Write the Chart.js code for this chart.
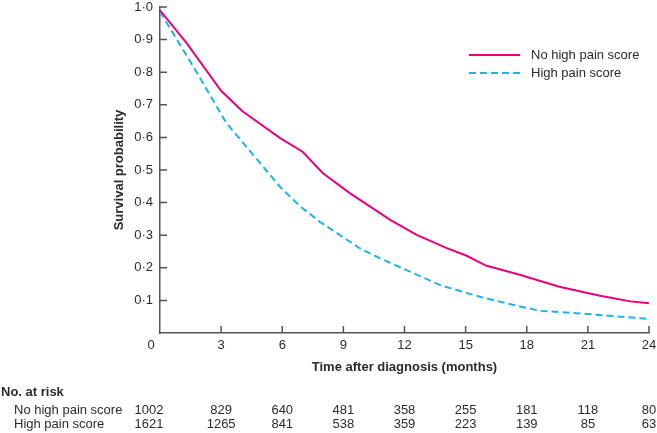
<!DOCTYPE html>
<html>
<head>
<meta charset="utf-8">
<script src="https://cdn.jsdelivr.net/npm/chart.js@4"></script>
<style>
html,body{margin:0;padding:0;background:#fff;}
#wrap{width:657px;height:433px;}
</style>
</head>
<body>
<div id="wrap"><canvas id="c" width="657" height="433"></canvas></div>
<script>
// ---- data ----
const seriesLabels = ['No high pain score', 'High pain score'];
const noHighMonths = [0, 1.3, 3.0, 4.05, 5.9, 7.0, 8.0, 9.3, 11.3, 12.6, 14.05, 15.05, 16.0, 17.7, 19.6, 21.6, 23.1, 24];
const noHighSurv   = [0.99, 0.89, 0.743, 0.68, 0.598, 0.556, 0.49, 0.43, 0.347, 0.301, 0.261, 0.237, 0.207, 0.178, 0.142, 0.114, 0.097, 0.091];
const highMonths   = [0, 0.3, 1.8, 3.25, 5.2, 5.9, 6.85, 7.85, 9.8, 10.8, 12.1, 13.75, 15.7, 17.35, 18.65, 20.6, 22.25, 24];
const highSurv     = [0.985, 0.955, 0.80, 0.645, 0.5, 0.448, 0.39, 0.341, 0.26, 0.229, 0.193, 0.147, 0.111, 0.086, 0.068, 0.06, 0.052, 0.043];
const riskMonths   = [0, 3, 6, 9, 12, 15, 18, 21, 24];
const riskNoHigh   = [1002, 829, 640, 481, 358, 255, 181, 118, 80];
const riskHigh     = [1621, 1265, 841, 538, 359, 223, 139, 85, 63];
const xTitle = 'Time after diagnosis (months)';
const yTitle = 'Survival probability';
const riskTitle = 'No. at risk';

const PINK = '#e8007d';
const BLUE = '#1cb4ec';
const TXT = '#2b2b2b';
const AX = '#555555';
const FONT = "'Liberation Sans', Arial, Helvetica, sans-serif";

const toPts = (xs, ys) => xs.map((x, i) => ({x: x, y: ys[i]}));
const fmt = v => v.toFixed(1).replace('.', '\u00B7');

const extras = {
  id: 'extras',
  afterDraw(chart) {
    const ctx = chart.ctx;
    const xs = chart.scales.x, ys = chart.scales.y;
    const ca = chart.chartArea;
    ctx.save();
    // inward tick marks
    ctx.strokeStyle = AX; ctx.lineWidth = 1.5;
    ctx.beginPath();
    for (let v = 3; v <= 24; v += 3) {
      const px = xs.getPixelForValue(v);
      ctx.moveTo(px, ca.bottom); ctx.lineTo(px, ca.bottom - 7);
    }
    for (let i = 1; i <= 10; i++) {
      const py = ys.getPixelForValue(i / 10);
      ctx.moveTo(ca.left, py); ctx.lineTo(ca.left + 7, py);
    }
    ctx.stroke();
    // origin label
    ctx.fillStyle = TXT;
    ctx.font = '13px ' + FONT;
    ctx.textAlign = 'center'; ctx.textBaseline = 'middle';
    ctx.fillText('0', ca.left - 9, ca.bottom + 12);
    // legend
    const lx0 = 469, lx1 = 520, ly = [55, 73];
    chart.data.datasets.forEach((ds, i) => {
      ctx.strokeStyle = ds.borderColor; ctx.lineWidth = 2;
      ctx.setLineDash(ds.borderDash || []);
      ctx.beginPath(); ctx.moveTo(lx0, ly[i]); ctx.lineTo(lx1, ly[i]); ctx.stroke();
      ctx.setLineDash([]);
      ctx.fillStyle = TXT; ctx.textAlign = 'left'; ctx.textBaseline = 'middle';
      ctx.font = '13px ' + FONT;
      ctx.fillText(ds.label, 531, ly[i] + 0.5);
    });
    // risk table
    ctx.fillStyle = TXT;
    ctx.font = 'bold 13px ' + FONT;
    ctx.textAlign = 'left';
    ctx.fillText(riskTitle, 1, 392);
    ctx.font = '13px ' + FONT;
    ctx.fillText(seriesLabels[0], 14, 410);
    ctx.fillText(seriesLabels[1], 14, 424);
    ctx.textAlign = 'center';
    riskMonths.forEach((m, i) => {
      const px = xs.getPixelForValue(m) + (m === 0 ? -11 : 0);
      ctx.fillText(String(riskNoHigh[i]), px, 410);
      ctx.fillText(String(riskHigh[i]), px, 424);
    });
    ctx.restore();
  }
};

new Chart(document.getElementById('c'), {
  type: 'line',
  data: {
    datasets: [
      {label: seriesLabels[0], data: toPts(noHighMonths, noHighSurv), borderColor: PINK, borderWidth: 2, pointRadius: 0, tension: 0, fill: false},
      {label: seriesLabels[1], data: toPts(highMonths, highSurv), borderColor: BLUE, borderWidth: 2, borderDash: [7, 4], pointRadius: 0, tension: 0, fill: false}
    ]
  },
  options: {
    responsive: false,
    animation: false,
    layout: {padding: {top: 7, right: 8, left: 0, bottom: 0}},
    plugins: {legend: {display: false}, tooltip: {enabled: false}},
    scales: {
      x: {
        type: 'linear', min: 0, max: 24,
        afterFit: s => { s.height = 100; s.paddingLeft = 0; s.paddingRight = 0; },
        grid: {display: true, drawOnChartArea: false, drawTicks: false},
        border: {display: true, color: AX, width: 1.5},
        ticks: {stepSize: 3, padding: 5, color: TXT, font: {family: FONT, size: 13}, maxRotation: 0,
                callback: v => v === 0 ? '' : String(v)},
        title: {display: true, text: xTitle, color: TXT, font: {family: FONT, size: 13, weight: 'bold'}, padding: {top: 0, bottom: 58}}
      },
      y: {
        type: 'linear', min: 0, max: 1,
        afterFit: s => { s.width = 160; s.paddingTop = 0; s.paddingBottom = 0; },
        grid: {display: true, drawOnChartArea: false, drawTicks: false},
        border: {display: true, color: AX, width: 1.5},
        ticks: {stepSize: 0.1, padding: 7, color: TXT, font: {family: FONT, size: 13},
                callback: v => v === 0 ? '' : fmt(v)},
        title: {display: true, text: yTitle, color: TXT, font: {family: FONT, size: 13, weight: 'bold'}, padding: {top: 112, bottom: 0}}
      }
    }
  },
  plugins: [extras]
});
</script>
</body>
</html>
